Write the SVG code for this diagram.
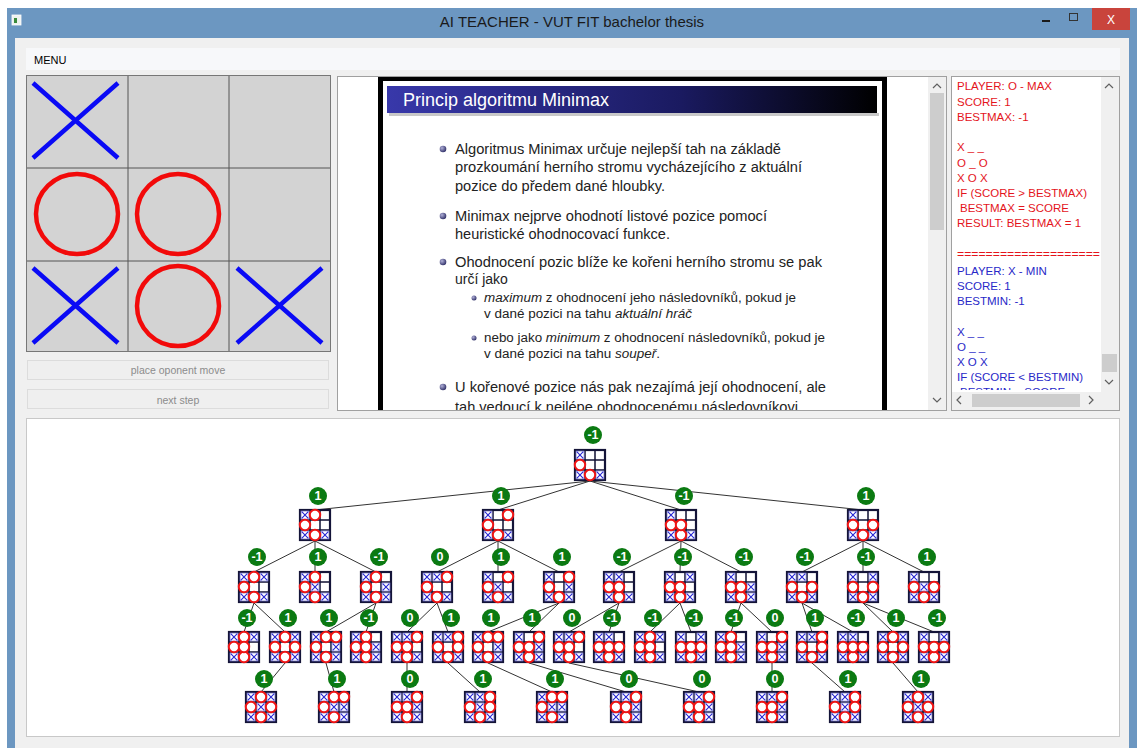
<svg xmlns="http://www.w3.org/2000/svg" width="1137" height="748" viewBox="0 0 1137 748">
<style>
.ui{font-family:"Liberation Sans",Arial,sans-serif}
.lb{fill:#0b7a12}
.lt{font-family:"Liberation Sans",Arial,sans-serif;font-size:12.5px;font-weight:bold;fill:#fff;text-anchor:middle}
.cn line{stroke:#333;stroke-width:1}
.st{font-family:"Liberation Sans",Arial,sans-serif;font-size:14px;fill:#222}
.ss{font-size:12.5px}
.rp{font-family:"Liberation Sans",Arial,sans-serif;font-size:11.5px}
.red{fill:#e4141c}
.blu{fill:#2828c8}
.btn{fill:#efefef;stroke:#dcdcdc}
.bt{font-family:"Liberation Sans",Arial,sans-serif;font-size:10.5px;fill:#8c8c8c;text-anchor:middle}
.chev{fill:none;stroke:#606060;stroke-width:1.2}
.sb{fill:#f0f0f0}
.th{fill:#cdcdcd}
</style>
<defs>
<linearGradient id="tg" x1="0" x2="1"><stop offset="0" stop-color="#3838aa"/><stop offset="0.6" stop-color="#1a1a60"/><stop offset="1" stop-color="#000"/></linearGradient>
<radialGradient id="bl" cx="0.35" cy="0.35" r="0.7"><stop offset="0" stop-color="#b0b0d8"/><stop offset="1" stop-color="#2e2e66"/></radialGradient>
<clipPath id="slideClip"><rect x="338" y="77" width="590" height="333"/></clipPath>
<clipPath id="rpClip"><rect x="952" y="77" width="148" height="313"/></clipPath>
<g id="x"><rect x="-4" y="-4" width="8" height="8" fill="none" stroke="#8080e0" stroke-width="0.6"/><path d="M-3.3-3.3L3.3 3.3M3.3-3.3L-3.3 3.3" stroke="#2626d4" stroke-width="1.1"/></g>
<circle id="o" r="5.2" fill="#fff" stroke="#ee1515" stroke-width="2"/>
<g id="bb"><rect width="30" height="30" fill="#fff"/><path d="M10 0V30M20 0V30M0 10H30M0 20H30" stroke="#111133" stroke-width="1.5"/><rect width="30" height="30" fill="none" stroke="#141438" stroke-width="2.2"/><use href="#x" x="5" y="5"/><use href="#x" x="5" y="25"/><use href="#x" x="25" y="25"/><use href="#o" x="5" y="15"/><use href="#o" x="15" y="25"/></g>
<use id="x1" href="#x" x="15" y="5"/><use id="x2" href="#x" x="25" y="5"/><use id="x4" href="#x" x="15" y="15"/><use id="x5" href="#x" x="25" y="15"/>
<use id="o1" href="#o" x="15" y="5"/><use id="o2" href="#o" x="25" y="5"/><use id="o4" href="#o" x="15" y="15"/><use id="o5" href="#o" x="25" y="15"/>
<g id="lm"><circle r="9" class="lb"/><text class="lt" y="4.4">-1</text></g>
<g id="l1"><circle r="9" class="lb"/><text class="lt" y="4.4">1</text></g>
<g id="l0"><circle r="9" class="lb"/><text class="lt" y="4.4">0</text></g>
</defs>

<!-- window chrome -->
<rect x="0" y="0" width="1137" height="748" fill="#ffffff"/>
<rect x="7" y="8" width="1130" height="740" fill="#6c97c1"/>
<rect x="15" y="38" width="1114" height="710" fill="#f0f0f0"/>
<g id="titlebar">
<rect x="12" y="15" width="9" height="10" fill="#eef2ee" stroke="#ffffff" stroke-width="0.8"/>
<rect x="14" y="18" width="3" height="5" fill="#3a8a3a"/>
<text class="ui" x="572" y="27" font-size="15" fill="#1a1a1a" text-anchor="middle">AI TEACHER - VUT FIT bachelor thesis</text>
<path d="M1042 21H1050" stroke="#1a1a1a" stroke-width="2"/>
<rect x="1069.5" y="13.5" width="8" height="7" fill="none" stroke="#333" stroke-width="1"/>
<rect x="1092" y="8" width="38" height="22" fill="#c9443c"/>
<text class="ui" x="1111" y="24" font-size="12" fill="#fff" text-anchor="middle">X</text>
</g>
<g id="menubar">
<rect x="26" y="48" width="1094" height="22" fill="#f7f8fa"/>
<text class="ui" x="34" y="64" font-size="11" fill="#000">MENU</text>
</g>

<!-- game board -->
<g id="gameboard">
<rect x="26" y="75" width="305" height="277" fill="#d3d3d3"/>
<path d="M128 75V352M229 75V352M26 168H331M26 261H331" stroke="#555" stroke-width="1"/>
<rect x="26.5" y="75.5" width="304" height="276" fill="none" stroke="#777" stroke-width="1"/>
<path d="M33 83L118 158M118 83L33 158M33 268L118 343M118 268L33 343M237 268L322 343M322 268L237 343" stroke="#0a0af5" stroke-width="4.5"/>
<ellipse cx="77" cy="214" rx="41" ry="40" fill="none" stroke="#f20a0a" stroke-width="4.5"/>
<ellipse cx="178" cy="214" rx="41" ry="40" fill="none" stroke="#f20a0a" stroke-width="4.5"/>
<ellipse cx="178" cy="306" rx="41" ry="40" fill="none" stroke="#f20a0a" stroke-width="4.5"/>
</g>
<g id="btn-place">
<rect class="btn" x="27.5" y="360.5" width="301" height="19"/>
<text class="bt" x="178" y="374">place oponent move</text>
</g>
<g id="btn-next">
<rect class="btn" x="27.5" y="389.5" width="301" height="19"/>
<text class="bt" x="178" y="404">next step</text>
</g>

<!-- slide viewer -->
<g id="slide">
<rect x="337.5" y="76.5" width="609" height="334" fill="#fff" stroke="#a0a0a0"/>
<g clip-path="url(#slideClip)">
<rect x="378" y="76" width="509" height="340" fill="#000"/>
<rect x="383" y="81" width="499" height="340" fill="#fff"/>
<rect x="389" y="113" width="490" height="3" fill="#c8c8c8"/>
<rect x="387" y="86" width="490" height="27" fill="url(#tg)"/>
<text class="ui" x="403" y="106" font-size="18" fill="#fff">Princip algoritmu Minimax</text>
<circle cx="443" cy="149" r="3.3" fill="url(#bl)"/>
<circle cx="443" cy="216" r="3.3" fill="url(#bl)"/>
<circle cx="443" cy="262" r="3.3" fill="url(#bl)"/>
<circle cx="474" cy="298" r="2.5" fill="url(#bl)"/>
<circle cx="474" cy="338" r="2.5" fill="url(#bl)"/>
<circle cx="443" cy="387" r="3.3" fill="url(#bl)"/>
<text class="st" x="455" y="154" textLength="326" lengthAdjust="spacingAndGlyphs">Algoritmus Minimax určuje nejlepší tah na základě</text>
<text class="st" x="455" y="172" textLength="347" lengthAdjust="spacingAndGlyphs">prozkoumání herního stromu vycházejícího z aktuální</text>
<text class="st" x="455" y="191" textLength="210" lengthAdjust="spacingAndGlyphs">pozice do předem dané hloubky.</text>
<text class="st" x="455" y="221" textLength="312" lengthAdjust="spacingAndGlyphs">Minimax nejprve ohodnotí listové pozice pomocí</text>
<text class="st" x="455" y="239" textLength="215" lengthAdjust="spacingAndGlyphs">heuristické ohodnocovací funkce.</text>
<text class="st" x="455" y="267" textLength="367" lengthAdjust="spacingAndGlyphs">Ohodnocení pozic blíže ke kořeni herního stromu se pak</text>
<text class="st" x="455" y="284">určí jako</text>
<text class="st ss" x="484" y="302" textLength="312" lengthAdjust="spacingAndGlyphs"><tspan font-style="italic">maximum</tspan> z ohodnocení jeho následovníků, pokud je</text>
<text class="st ss" x="484" y="318" textLength="208" lengthAdjust="spacingAndGlyphs">v dané pozici na tahu <tspan font-style="italic">aktuální hráč</tspan></text>
<text class="st ss" x="484" y="342" textLength="341" lengthAdjust="spacingAndGlyphs">nebo jako <tspan font-style="italic">minimum</tspan> z ohodnocení následovníků, pokud je</text>
<text class="st ss" x="484" y="358" textLength="176" lengthAdjust="spacingAndGlyphs">v dané pozici na tahu <tspan font-style="italic">soupeř</tspan>.</text>
<text class="st" x="455" y="392" textLength="371" lengthAdjust="spacingAndGlyphs">U kořenové pozice nás pak nezajímá její ohodnocení, ale</text>
<text class="st" x="455" y="412" textLength="347" lengthAdjust="spacingAndGlyphs">tah vedoucí k nejlépe ohodnocenému následovníkovi.</text>
</g>
<rect class="sb" x="928" y="77" width="18" height="333"/>
<rect class="th" x="930" y="93" width="14" height="137"/>
<path class="chev" d="M933 88L937 84L941 88"/>
<path class="chev" d="M933 398L937 402L941 398"/>
</g>

<!-- right text panel -->
<g id="tracepanel">
<rect x="951.5" y="76.5" width="168" height="334" fill="#fff" stroke="#a0a0a0"/>
<g clip-path="url(#rpClip)" class="rp">
<text class="red" x="957" y="90">PLAYER: O - MAX</text>
<text class="red" x="957" y="106">SCORE: 1</text>
<text class="red" x="957" y="121">BESTMAX: -1</text>
<text class="red" x="957" y="151">X _ _</text>
<text class="red" x="957" y="167">O _ O</text>
<text class="red" x="957" y="182">X O X</text>
<text class="red" x="957" y="197">IF (SCORE &gt; BESTMAX)</text>
<text class="red" x="960" y="212">BESTMAX = SCORE</text>
<text class="red" x="957" y="227">RESULT: BESTMAX = 1</text>
<text class="red" x="957" y="258" textLength="143" lengthAdjust="spacingAndGlyphs">====================</text>
<text class="blu" x="957" y="275">PLAYER: X - MIN</text>
<text class="blu" x="957" y="290">SCORE: 1</text>
<text class="blu" x="957" y="305">BESTMIN: -1</text>
<text class="blu" x="957" y="336">X _ _</text>
<text class="blu" x="957" y="351">O _ _</text>
<text class="blu" x="957" y="366">X O X</text>
<text class="blu" x="957" y="381">IF (SCORE &lt; BESTMIN)</text>
<text class="blu" x="960" y="396">BESTMIN = SCORE</text>
</g>
<rect class="sb" x="1101" y="77" width="18" height="333"/>
<rect class="th" x="1102" y="354" width="15" height="18"/>
<path class="chev" d="M1105 88L1109 84L1113 88"/>
<path class="chev" d="M1105 380L1109 384L1113 380"/>
<rect class="sb" x="952" y="392" width="149" height="18"/>
<rect class="th" x="972" y="394" width="108" height="13"/>
<path class="chev" d="M961 396L957 400L961 404"/>
<path class="chev" d="M1089 396L1093 400L1089 404"/>
</g>

<!-- tree panel -->
<rect x="26.5" y="418.5" width="1093" height="318" fill="#fff" stroke="#c8c8c8"/>

<g id="connectors" class="cn">
<line x1="590" y1="481" x2="315" y2="510"/><line x1="590" y1="481" x2="498" y2="510"/><line x1="590" y1="481" x2="681" y2="510"/><line x1="590" y1="481" x2="863" y2="510"/>
<line x1="315" y1="541" x2="254" y2="572"/><line x1="315" y1="541" x2="315" y2="572"/><line x1="315" y1="541" x2="376" y2="572"/>
<line x1="498" y1="541" x2="437" y2="572"/><line x1="498" y1="541" x2="498" y2="572"/><line x1="498" y1="541" x2="559" y2="572"/>
<line x1="681" y1="541" x2="619" y2="572"/><line x1="681" y1="541" x2="680" y2="572"/><line x1="681" y1="541" x2="741" y2="572"/>
<line x1="863" y1="541" x2="802" y2="572"/><line x1="863" y1="541" x2="863" y2="572"/><line x1="863" y1="541" x2="924" y2="572"/>
<line x1="254" y1="603" x2="244" y2="632"/><line x1="254" y1="603" x2="285" y2="632"/>
<line x1="376" y1="603" x2="326" y2="632"/><line x1="376" y1="603" x2="366" y2="632"/>
<line x1="437" y1="603" x2="407" y2="632"/><line x1="437" y1="603" x2="448" y2="632"/>
<line x1="559" y1="603" x2="488" y2="632"/><line x1="559" y1="603" x2="529" y2="632"/>
<line x1="619" y1="603" x2="569" y2="632"/><line x1="619" y1="603" x2="609" y2="632"/>
<line x1="680" y1="603" x2="650" y2="632"/><line x1="680" y1="603" x2="691" y2="632"/>
<line x1="741" y1="603" x2="731" y2="632"/><line x1="741" y1="603" x2="772" y2="632"/>
<line x1="802" y1="603" x2="812" y2="632"/><line x1="802" y1="603" x2="853" y2="632"/>
<line x1="863" y1="603" x2="893" y2="632"/><line x1="863" y1="603" x2="934" y2="632"/>
<line x1="285" y1="663" x2="261" y2="692"/><line x1="326" y1="663" x2="334" y2="692"/>
<line x1="407" y1="663" x2="407" y2="692"/><line x1="448" y1="663" x2="480" y2="692"/>
<line x1="488" y1="663" x2="552" y2="692"/><line x1="529" y1="663" x2="626" y2="692"/>
<line x1="569" y1="663" x2="699" y2="692"/><line x1="772" y1="663" x2="772" y2="692"/>
<line x1="812" y1="663" x2="845" y2="692"/><line x1="893" y1="663" x2="918" y2="692"/>
</g>

<g id="n0" transform="translate(575,450)"><use href="#bb"/><use href="#lm" x="18" y="-15"/></g>

<g id="n1-1" transform="translate(300,510)"><use href="#bb"/><use href="#o1"/><use href="#l1" x="18" y="-14"/></g>
<g id="n1-2" transform="translate(483,510)"><use href="#bb"/><use href="#o2"/><use href="#l1" x="18" y="-14"/></g>
<g id="n1-3" transform="translate(666,510)"><use href="#bb"/><use href="#o4"/><use href="#lm" x="18" y="-14"/></g>
<g id="n1-4" transform="translate(848,510)"><use href="#bb"/><use href="#o5"/><use href="#l1" x="18" y="-14"/></g>

<g id="n2-1" transform="translate(239,572)"><use href="#bb"/><use href="#x2"/><use href="#o1"/><use href="#lm" x="18" y="-15"/></g>
<g id="n2-2" transform="translate(300,572)"><use href="#bb"/><use href="#x4"/><use href="#o1"/><use href="#l1" x="18" y="-15"/></g>
<g id="n2-3" transform="translate(361,572)"><use href="#bb"/><use href="#x5"/><use href="#o1"/><use href="#lm" x="18" y="-15"/></g>
<g id="n2-4" transform="translate(422,572)"><use href="#bb"/><use href="#x1"/><use href="#o2"/><use href="#l0" x="18" y="-15"/></g>
<g id="n2-5" transform="translate(483,572)"><use href="#bb"/><use href="#x4"/><use href="#o2"/><use href="#l1" x="18" y="-15"/></g>
<g id="n2-6" transform="translate(544,572)"><use href="#bb"/><use href="#x5"/><use href="#o2"/><use href="#l1" x="18" y="-15"/></g>
<g id="n2-7" transform="translate(604,572)"><use href="#bb"/><use href="#x1"/><use href="#o4"/><use href="#lm" x="18" y="-15"/></g>
<g id="n2-8" transform="translate(665,572)"><use href="#bb"/><use href="#x2"/><use href="#o4"/><use href="#lm" x="18" y="-15"/></g>
<g id="n2-9" transform="translate(726,572)"><use href="#bb"/><use href="#x5"/><use href="#o4"/><use href="#lm" x="18" y="-15"/></g>
<g id="n2-10" transform="translate(787,572)"><use href="#bb"/><use href="#x1"/><use href="#o5"/><use href="#lm" x="18" y="-15"/></g>
<g id="n2-11" transform="translate(848,572)"><use href="#bb"/><use href="#x2"/><use href="#o5"/><use href="#lm" x="18" y="-15"/></g>
<g id="n2-12" transform="translate(909,572)"><use href="#bb"/><use href="#x4"/><use href="#o5"/><use href="#l1" x="18" y="-15"/></g>

<g id="n3-1" transform="translate(229,632)"><use href="#bb"/><use href="#x2"/><use href="#o1"/><use href="#o4"/><use href="#lm" x="18" y="-14"/></g>
<g id="n3-2" transform="translate(270,632)"><use href="#bb"/><use href="#x2"/><use href="#o1"/><use href="#o5"/><use href="#l1" x="18" y="-14"/></g>
<g id="n3-3" transform="translate(311,632)"><use href="#bb"/><use href="#x5"/><use href="#o1"/><use href="#o2"/><use href="#l1" x="18" y="-14"/></g>
<g id="n3-4" transform="translate(351,632)"><use href="#bb"/><use href="#x5"/><use href="#o1"/><use href="#o4"/><use href="#lm" x="18" y="-14"/></g>
<g id="n3-5" transform="translate(392,632)"><use href="#bb"/><use href="#x1"/><use href="#o2"/><use href="#o4"/><use href="#l0" x="18" y="-14"/></g>
<g id="n3-6" transform="translate(433,632)"><use href="#bb"/><use href="#x1"/><use href="#o2"/><use href="#o5"/><use href="#l1" x="18" y="-14"/></g>
<g id="n3-7" transform="translate(473,632)"><use href="#bb"/><use href="#x5"/><use href="#o1"/><use href="#o2"/><use href="#l1" x="18" y="-14"/></g>
<g id="n3-8" transform="translate(514,632)"><use href="#bb"/><use href="#x5"/><use href="#o2"/><use href="#o4"/><use href="#l1" x="18" y="-14"/></g>
<g id="n3-9" transform="translate(554,632)"><use href="#bb"/><use href="#x1"/><use href="#o2"/><use href="#o4"/><use href="#l0" x="18" y="-14"/></g>
<g id="n3-10" transform="translate(594,632)"><use href="#bb"/><use href="#x1"/><use href="#o4"/><use href="#o5"/><use href="#lm" x="18" y="-14"/></g>
<g id="n3-11" transform="translate(635,632)"><use href="#bb"/><use href="#x2"/><use href="#o1"/><use href="#o4"/><use href="#lm" x="18" y="-14"/></g>
<g id="n3-12" transform="translate(676,632)"><use href="#bb"/><use href="#x2"/><use href="#o4"/><use href="#o5"/><use href="#lm" x="18" y="-14"/></g>
<g id="n3-13" transform="translate(716,632)"><use href="#bb"/><use href="#x5"/><use href="#o1"/><use href="#o4"/><use href="#lm" x="18" y="-14"/></g>
<g id="n3-14" transform="translate(757,632)"><use href="#bb"/><use href="#x5"/><use href="#o2"/><use href="#o4"/><use href="#l0" x="18" y="-14"/></g>
<g id="n3-15" transform="translate(797,632)"><use href="#bb"/><use href="#x1"/><use href="#o2"/><use href="#o5"/><use href="#l1" x="18" y="-14"/></g>
<g id="n3-16" transform="translate(838,632)"><use href="#bb"/><use href="#x1"/><use href="#o4"/><use href="#o5"/><use href="#lm" x="18" y="-14"/></g>
<g id="n3-17" transform="translate(878,632)"><use href="#bb"/><use href="#x2"/><use href="#o1"/><use href="#o5"/><use href="#l1" x="18" y="-14"/></g>
<g id="n3-18" transform="translate(919,632)"><use href="#bb"/><use href="#x2"/><use href="#o4"/><use href="#o5"/><use href="#lm" x="18" y="-14"/></g>

<g id="n4-1" transform="translate(246,692)"><use href="#bb"/><use href="#x2"/><use href="#x4"/><use href="#o1"/><use href="#o5"/><use href="#l1" x="18" y="-13"/></g>
<g id="n4-2" transform="translate(319,692)"><use href="#bb"/><use href="#x4"/><use href="#x5"/><use href="#o1"/><use href="#o2"/><use href="#l1" x="18" y="-13"/></g>
<g id="n4-3" transform="translate(392,692)"><use href="#bb"/><use href="#x1"/><use href="#x5"/><use href="#o2"/><use href="#o4"/><use href="#l0" x="18" y="-13"/></g>
<g id="n4-4" transform="translate(465,692)"><use href="#bb"/><use href="#x1"/><use href="#x4"/><use href="#o2"/><use href="#o5"/><use href="#l1" x="18" y="-13"/></g>
<g id="n4-5" transform="translate(537,692)"><use href="#bb"/><use href="#x4"/><use href="#x5"/><use href="#o1"/><use href="#o2"/><use href="#l1" x="18" y="-13"/></g>
<g id="n4-6" transform="translate(611,692)"><use href="#bb"/><use href="#x1"/><use href="#x5"/><use href="#o2"/><use href="#o4"/><use href="#l0" x="18" y="-13"/></g>
<g id="n4-7" transform="translate(684,692)"><use href="#bb"/><use href="#x1"/><use href="#x5"/><use href="#o2"/><use href="#o4"/><use href="#l0" x="18" y="-13"/></g>
<g id="n4-8" transform="translate(757,692)"><use href="#bb"/><use href="#x1"/><use href="#x5"/><use href="#o2"/><use href="#o4"/><use href="#l0" x="18" y="-13"/></g>
<g id="n4-9" transform="translate(830,692)"><use href="#bb"/><use href="#x1"/><use href="#x4"/><use href="#o2"/><use href="#o5"/><use href="#l1" x="18" y="-13"/></g>
<g id="n4-10" transform="translate(903,692)"><use href="#bb"/><use href="#x2"/><use href="#x4"/><use href="#o1"/><use href="#o5"/><use href="#l1" x="18" y="-13"/></g>
</svg>
